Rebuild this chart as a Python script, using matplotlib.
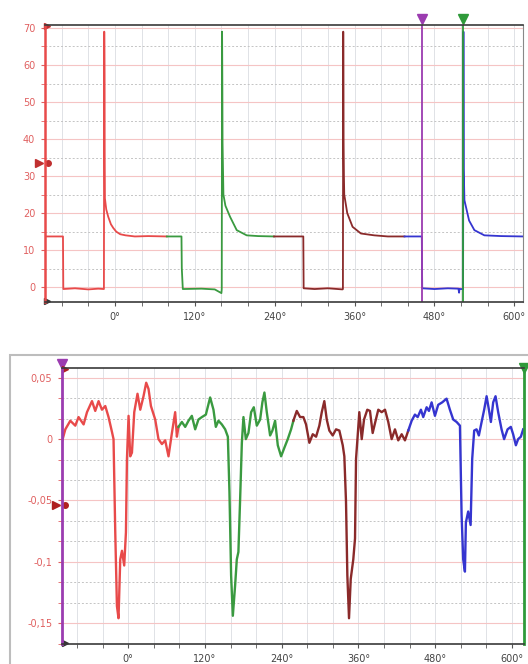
import matplotlib
matplotlib.use("Agg")
import matplotlib.pyplot as plt
import matplotlib.ticker as mticker
from matplotlib.patches import Rectangle
import numpy as np

# upper trace (segments by colour), x in degrees
top_red_x = [-105, -78, -77.5, -60, -40, -25, -16.5, -16, -15.6, -15.3, -15, -13, -10, -6, -2.5, 2, 8, 16, 30, 50, 78]
top_red_y = [13.7, 13.7, -0.5, -0.3, -0.6, -0.4, -0.5, 69, 57, 35, 24, 21, 19, 17, 16, 15, 14.3, 14, 13.7, 13.8, 13.7]

top_green_x = [78, 100, 100.5, 102, 130, 150, 160, 160.5, 161, 161.4, 161.7, 163, 166, 173, 183, 198, 215, 239]
top_green_y = [13.7, 13.7, 5, -0.5, -0.4, -0.6, -1.6, -0.5, 69, 55, 39, 25, 22, 19, 15.4, 14, 13.8, 13.7]

top_brown_x = [239, 283, 283.5, 300, 320, 342, 342.5, 343, 343.5, 344, 344.5, 349, 357, 369.5, 389.5, 410, 435]
top_brown_y = [13.7, 13.7, -0.3, -0.5, -0.3, -0.6, -0.5, 69, 40, 30, 25, 20, 16.3, 14.5, 14, 13.7, 13.7]

top_blue_x = [435, 461, 461.3, 461.6, 480, 500, 516, 517, 517.5, 523, 523.5, 524, 525, 532, 540, 555, 580, 613]
top_blue_y = [13.7, 13.7, 6.5, -0.3, -0.5, -0.3, -0.4, -1.5, -0.5, -0.5, 69, 32, 23.5, 18, 15.4, 14, 13.8, 13.7]

# lower trace
bot_red_x = [-103.6, -98.4, -90.6, -82.8, -77.7, -69.8, -64.5, -56.7, -51.6, -46.4, -41.1, -35.9, -30.8, -25.5,
             -23, -20.3, -17.7, -15.2, -12.5, -9.8, -6.3, -3.6, -2, 0.5, 3.1, 5.8, 9.4, 14.5, 18.8, 23.9, 28.1,
             31.7, 35.5, 42.2, 47.3, 52.7, 57.8, 63, 68.3, 73.4, 76.1, 78.6]
bot_red_y = [-0.002, 0.008, 0.015, 0.011, 0.018, 0.012, 0.022, 0.031, 0.023, 0.031, 0.024, 0.027, 0.018, 0.006,
             0, -0.076, -0.136, -0.146, -0.098, -0.091, -0.103, -0.076, -0.016, 0.019, -0.014, -0.011, 0.022,
             0.037, 0.024, 0.035, 0.046, 0.041, 0.027, 0.016, 0, -0.004, -0.001, -0.014, 0.005, 0.022, 0.002, 0.010]

bot_green_x = [78.6, 83.9, 89.1, 94.2, 99.5, 104.7, 109.8, 115.2, 121.4, 128.1, 133.3, 137, 141.1, 146.4, 151.6,
               155.8, 158.3, 160.9, 163.6, 167.2, 169.8, 172.3, 175, 177.7, 180.2, 183.9, 188, 192.2, 196.4,
               201.1, 206.3, 209.8, 213, 216.7, 221.9, 225.5, 229.7, 233.9, 239.1, 244.2, 249.5, 254.7, 258.3]
bot_green_y = [0.010, 0.014, 0.010, 0.015, 0.019, 0.008, 0.016, 0.018, 0.020, 0.034, 0.024, 0.010, 0.015, 0.012,
               0.008, 0.002, -0.043, -0.111, -0.144, -0.119, -0.098, -0.092, -0.049, -0.003, 0.018, 0, 0.005,
               0.022, 0.026, 0.011, 0.016, 0.030, 0.038, 0.022, 0.003, 0.007, 0.015, -0.005, -0.014, -0.007, 0,
               0.008, 0.015]

bot_brown_x = [258.3, 263.6, 268.8, 273.9, 278.1, 283.3, 288.6, 293.8, 298.9, 302.7, 306.7, 310.5, 314.5, 319.8,
               325, 330.2, 335.5, 338, 340.6, 342.7, 345.3, 348, 352, 354.7, 356.3, 358.9, 361.4, 365.2, 368.8,
               373.9, 378.1, 382.3, 386.4, 391.1, 396.4, 401.6, 406.7, 412, 417.2, 422.3, 427.7, 432.8, 438]
bot_brown_y = [0.015, 0.023, 0.018, 0.018, 0.012, -0.003, 0.004, 0.002, 0.011, 0.022, 0.031, 0.016, 0.007, 0.003,
               0.008, 0.007, -0.005, -0.014, -0.051, -0.111, -0.146, -0.114, -0.098, -0.081, -0.016, 0.003, 0.022,
               0, 0.016, 0.024, 0.023, 0.005, 0.014, 0.024, 0.022, 0.024, 0.014, 0, 0.008, -0.001, 0.004, -0.001,
               0.007]

bot_blue_x = [438, 443.3, 448.4, 452.7, 457.8, 461.4, 466.7, 470.3, 474.5, 479.7, 484.8, 491.1, 497.9, 503.1,
              508.3, 513.6, 518.8, 521.4, 523.9, 526.6, 528.1, 531.7, 535.5, 538, 541.1, 544.8, 548.4, 552.7,
              556.7, 560.5, 564.1, 567.2, 570.8, 574.5, 578.6, 583.9, 587.9, 593.3, 598.4, 602, 606.3, 609.8,
              614.1, 617.7]
bot_blue_y = [0.007, 0.015, 0.020, 0.018, 0.024, 0.018, 0.026, 0.023, 0.030, 0.019, 0.028, 0.030, 0.033, 0.024,
              0.016, 0.014, 0.011, -0.062, -0.098, -0.108, -0.068, -0.059, -0.070, -0.016, 0.007, 0.008, 0.003,
              0.014, 0.024, 0.035, 0.024, 0.014, 0.030, 0.035, 0.022, 0.008, 0, 0.008, 0.010, 0.004, -0.005, 0,
              0.002, 0.008]

x_ticks = [0, 120, 240, 360, 480, 600]
x_labels = ["0°", "120°", "240°", "360°", "480°", "600°"]
top_yticks = [0, 10, 20, 30, 40, 50, 60, 70]
bot_yticks = [-0.15, -0.1, -0.05, 0, 0.05]
bot_ylabels = ["-0,15", "-0,1", "-0,05", "0", "0,05"]
cursor_a, cursor_b = 461.5, 523

RED = "#e84a4a"
GREEN = "#3a9a40"
BROWN = "#8a2a2a"
BLUE = "#3535d0"
PURPLE = "#9b3cb0"
CGREEN = "#2f9a3a"
LBL = "#e06060"

plt.rcParams["font.family"] = ["DejaVu Sans"]
fig = plt.figure(figsize=(5.28, 6.64), dpi=100)

# window frame around lower plot
fig.add_artist(Rectangle((10 / 528, -0.05), 1.2, 0.4654 + 0.05, transform=fig.transFigure,
                         fill=False, ec="#bdbdbd", lw=1.5))

ax1 = fig.add_axes([45 / 528, 1 - 302 / 664, 478 / 528, 277 / 664])
ax2 = fig.add_axes([62 / 528, 1 - 644 / 664, 462 / 528, 276 / 664])


def style(ax, xlim, ylim, ymajor, yminor):
    ax.set_xlim(*xlim)
    ax.set_ylim(*ylim)
    ax.set_xticks(x_ticks)
    ax.set_xticklabels(x_labels)
    ax.xaxis.set_minor_locator(mticker.MultipleLocator(40))
    ax.yaxis.set_minor_locator(mticker.MultipleLocator(yminor))
    ax.grid(which="both", axis="x", color="#e0e2e6", lw=0.7)
    ax.grid(which="major", axis="y", color="#f5c4c4", lw=0.8)
    ax.grid(which="minor", axis="y", color="#c4c4c4", lw=0.7, ls=(0, (2, 2)))
    ax.set_axisbelow(True)
    ax.tick_params(axis="x", which="both", length=3, colors="#555555", labelsize=7, pad=4, labelcolor="#444444")
    ax.tick_params(axis="y", which="both", length=3, colors=LBL, labelsize=7, pad=4, labelcolor=LBL)
    for s in ("top", "bottom"):
        ax.spines[s].set_color("#3a3a3a")
        ax.spines[s].set_linewidth(1.2)
    ax.spines["right"].set_color("#888888")


style(ax1, (-105, 613), (-4, 70.8), top_yticks, 5)
ax1.set_yticks(top_yticks)
ax1.spines["left"].set_color(RED)
ax1.spines["left"].set_linewidth(1.8)

ax1.plot(top_red_x, top_red_y, color=RED, lw=1.3)
ax1.plot(top_green_x, top_green_y, color=GREEN, lw=1.3)
ax1.plot(top_brown_x, top_brown_y, color=BROWN, lw=1.3)
ax1.plot(top_blue_x, top_blue_y, color=BLUE, lw=1.3)

ax1.axvline(cursor_a, color=PURPLE, lw=1.3)
ax1.axvline(cursor_b, color=CGREEN, lw=1.3)
tr1 = ax1.get_xaxis_transform()
ax1.plot([cursor_a], [1.022], marker="v", ms=7, color=PURPLE, transform=tr1, clip_on=False)
ax1.plot([cursor_b], [1.022], marker="v", ms=7, color=CGREEN, transform=tr1, clip_on=False)
ty1 = ax1.get_yaxis_transform()
ax1.plot([-0.012], [33.5], marker=">", ms=6, color="#c03030", transform=ty1, clip_on=False)
ax1.plot([0.006], [33.5], marker="o", ms=4, color="#c03030", transform=ty1, clip_on=False)
ax1.plot([0.004], [70.5], marker=">", ms=5, color="#c03030", transform=ty1, clip_on=False)
ax1.plot([0.004], [-3.7], marker=">", ms=4, color="#333333", transform=ty1, clip_on=False)

style(ax2, (-103.6, 619), (-0.167, 0.058), bot_yticks, 0.05 / 3)
ax2.set_yticks(bot_yticks)
ax2.set_yticklabels(bot_ylabels)
ax2.spines["left"].set_color(PURPLE)
ax2.spines["left"].set_linewidth(2)
ax2.spines["right"].set_color(CGREEN)
ax2.spines["right"].set_linewidth(2)

ax2.plot(bot_red_x, bot_red_y, color=RED, lw=1.7)
ax2.plot(bot_green_x, bot_green_y, color=GREEN, lw=1.7)
ax2.plot(bot_brown_x, bot_brown_y, color=BROWN, lw=1.7)
ax2.plot(bot_blue_x, bot_blue_y, color=BLUE, lw=1.7)

tr2 = ax2.transAxes
ax2.plot([0.0], [1.015], marker="v", ms=7, color=PURPLE, transform=tr2, clip_on=False)
ax2.plot([1.0], [1.0], marker="v", ms=7, color=CGREEN, transform=tr2, clip_on=False)
ty2 = ax2.get_yaxis_transform()
ax2.plot([-0.012], [-0.054], marker=">", ms=6, color="#b02020", transform=ty2, clip_on=False)
ax2.plot([0.006], [-0.054], marker="o", ms=4, color="#b02020", transform=ty2, clip_on=False)
ax2.plot([0.006], [0.057], marker=">", ms=5, color="#b02020", transform=ty2, clip_on=False)
ax2.plot([0.006], [-0.166], marker=">", ms=4, color="#333333", transform=ty2, clip_on=False)

fig.savefig("out.png", dpi=100)
